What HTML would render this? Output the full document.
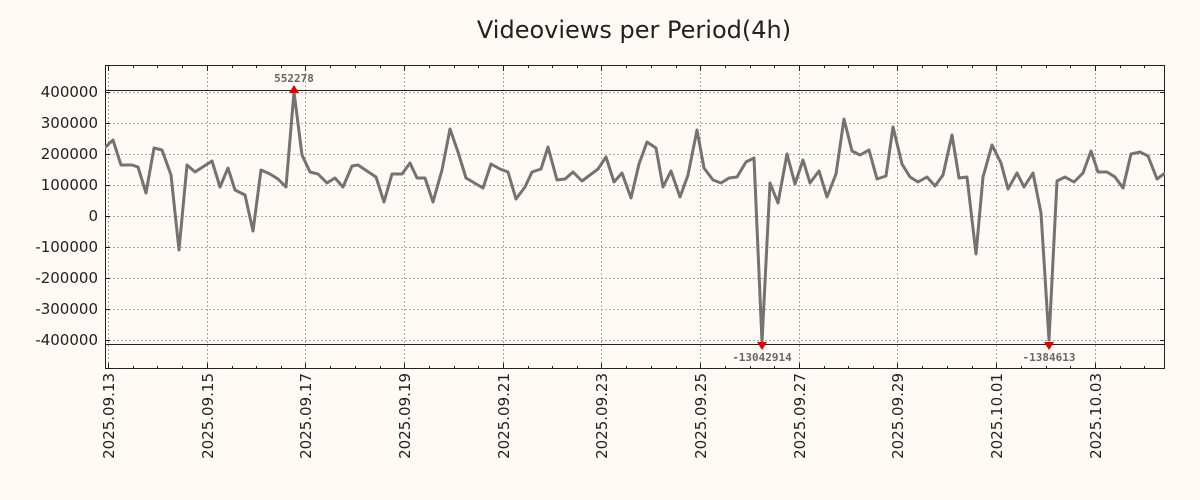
<!DOCTYPE html>
<html><head><meta charset="utf-8"><style>
html,body{margin:0;padding:0;background:#fffaf5;}
svg{display:block;font-family:"DejaVu Sans","Liberation Sans",sans-serif;}
</style></head><body>
<svg width="1200" height="500" viewBox="0 0 1200 500">
<rect x="0" y="0" width="1200" height="500" fill="#fffaf5"/>
<text x="634" y="38" font-size="24" text-anchor="middle" fill="#222">Videoviews per Period(4h)</text>
<rect x="105.5" y="65.5" width="1059" height="303" fill="#fffaf5" stroke="#222" stroke-width="1"/>
<g stroke="#aaa" stroke-width="1" stroke-dasharray="2,2">
<line x1="105" y1="92.5" x2="1165" y2="92.5"/><line x1="105" y1="123.5" x2="1165" y2="123.5"/>
<line x1="105" y1="154.5" x2="1165" y2="154.5"/><line x1="105" y1="185.5" x2="1165" y2="185.5"/>
<line x1="105" y1="216.5" x2="1165" y2="216.5"/><line x1="105" y1="247.5" x2="1165" y2="247.5"/>
<line x1="105" y1="278.5" x2="1165" y2="278.5"/><line x1="105" y1="309.5" x2="1165" y2="309.5"/>
<line x1="105" y1="340.5" x2="1165" y2="340.5"/>
<line x1="108.5" y1="65" x2="108.5" y2="369"/><line x1="207.5" y1="65" x2="207.5" y2="369"/>
<line x1="305.5" y1="65" x2="305.5" y2="369"/><line x1="404.5" y1="65" x2="404.5" y2="369"/>
<line x1="503.5" y1="65" x2="503.5" y2="369"/><line x1="601.5" y1="65" x2="601.5" y2="369"/>
<line x1="700.5" y1="65" x2="700.5" y2="369"/><line x1="799.5" y1="65" x2="799.5" y2="369"/>
<line x1="897.5" y1="65" x2="897.5" y2="369"/><line x1="996.5" y1="65" x2="996.5" y2="369"/>
<line x1="1095.5" y1="65" x2="1095.5" y2="369"/>
</g>
<line x1="105" y1="90.5" x2="1165" y2="90.5" stroke="#222" stroke-width="1"/>
<line x1="105" y1="344.5" x2="1165" y2="344.5" stroke="#222" stroke-width="1"/>
<g stroke="#222" stroke-width="1">
<path d="M105 92.5h5M105 123.5h5M105 154.5h5M105 185.5h5M105 216.5h5M105 247.5h5M105 278.5h5M105 309.5h5M105 340.5h5
M1165 92.5h-5M1165 123.5h-5M1165 154.5h-5M1165 185.5h-5M1165 216.5h-5M1165 247.5h-5M1165 278.5h-5M1165 309.5h-5M1165 340.5h-5"/>
<path d="M108.5 369v-6M207.5 369v-6M305.5 369v-6M404.5 369v-6M503.5 369v-6M601.5 369v-6M700.5 369v-6M799.5 369v-6M897.5 369v-6M996.5 369v-6M1095.5 369v-6
M108.5 65v6M207.5 65v6M305.5 65v6M404.5 65v6M503.5 65v6M601.5 65v6M700.5 65v6M799.5 65v6M897.5 65v6M996.5 65v6M1095.5 65v6
M133.5 369v-3M157.5 369v-3M182.5 369v-3M232.5 369v-3M256.5 369v-3M281.5 369v-3M330.5 369v-3M355.5 369v-3M380.5 369v-3M429.5 369v-3M454.5 369v-3M478.5 369v-3M528.5 369v-3M552.5 369v-3M577.5 369v-3M626.5 369v-3M651.5 369v-3M676.5 369v-3M725.5 369v-3M750.5 369v-3M774.5 369v-3M824.5 369v-3M848.5 369v-3M873.5 369v-3M922.5 369v-3M947.5 369v-3M972.5 369v-3M1021.5 369v-3M1046.5 369v-3M1070.5 369v-3M1120.5 369v-3M1144.5 369v-3
M133.5 65v3M157.5 65v3M182.5 65v3M232.5 65v3M256.5 65v3M281.5 65v3M330.5 65v3M355.5 65v3M380.5 65v3M429.5 65v3M454.5 65v3M478.5 65v3M528.5 65v3M552.5 65v3M577.5 65v3M626.5 65v3M651.5 65v3M676.5 65v3M725.5 65v3M750.5 65v3M774.5 65v3M824.5 65v3M848.5 65v3M873.5 65v3M922.5 65v3M947.5 65v3M972.5 65v3M1021.5 65v3M1046.5 65v3M1070.5 65v3M1120.5 65v3M1144.5 65v3"/>
</g>
<g font-size="15" fill="#222" text-anchor="end">
<text x="98" y="97">400000</text><text x="98" y="128">300000</text><text x="98" y="159">200000</text>
<text x="98" y="190">100000</text><text x="98" y="221">0</text><text x="98" y="252">-100000</text>
<text x="98" y="283">-200000</text><text x="98" y="314">-300000</text><text x="98" y="345">-400000</text>
</g>
<g font-size="15" fill="#222" text-anchor="end">
<text transform="translate(114,373) rotate(-90)">2025.09.13</text>
<text transform="translate(213,373) rotate(-90)">2025.09.15</text>
<text transform="translate(311,373) rotate(-90)">2025.09.17</text>
<text transform="translate(410,373) rotate(-90)">2025.09.19</text>
<text transform="translate(509,373) rotate(-90)">2025.09.21</text>
<text transform="translate(607,373) rotate(-90)">2025.09.23</text>
<text transform="translate(706,373) rotate(-90)">2025.09.25</text>
<text transform="translate(805,373) rotate(-90)">2025.09.27</text>
<text transform="translate(903,373) rotate(-90)">2025.09.29</text>
<text transform="translate(1002,373) rotate(-90)">2025.10.01</text>
<text transform="translate(1101,373) rotate(-90)">2025.10.03</text>
</g>
<svg x="105" y="65" width="1060" height="304" viewBox="105 65 1060 304" overflow="hidden">
<polyline fill="none" stroke="#737373" stroke-width="3" stroke-linejoin="round" points="
100,152 113,140 121,165 132,165 138,167 146,193 154,148 162,150 171,175 179,250 187,165 195,172 212,161 220,187 228,168 235,190 245,195 253,231 261,170 270,174 278,179 286,187 294,92 302,155 310,172 318,174 327,183 335,178 343,187 352,166 358,165 367,171 376,177 384,202 392,174 402,174 410,163 417,178 425,178 433,202 442,170 450,129 458,152 466,178 483,188 491,164 500,169 508,172 516,199 525,187 532,172 541,169 548,147 557,180 565,179 573,172 582,181 590,175 598,169 606,157 614,182 622,173 631,198 639,164 647,142 656,148 663,187 671,171 680,197 688,175 697,130 704,168 713,180 721,183 729,178 737,177 746,162 754,158 762,342 770,183 778,203 787,154 795,184 803,160 810,183 819,171 827,197 836,174 844,119 852,151 860,155 869,150 877,179 886,176 893,127 902,164 910,177 918,182 927,177 935,186 943,175 952,135 959,178 967,177 976,254 983,177 992,145 1001,163 1008,189 1017,173 1024,187 1033,173 1041,213 1049,340 1057,181 1065,177 1074,182 1083,173 1091,151 1098,172 1107,172 1115,177 1123,188 1131,154 1140,152 1148,156 1157,179 1165,173 1170,171"/>
</svg>
<polygon points="289,93 299,93 294,85" fill="#e00000"/>
<polygon points="757,342 767,342 762,350" fill="#e00000"/>
<polygon points="1044,342 1054,342 1049,350" fill="#e00000"/>
<g font-size="11" font-weight="bold" fill="#666" text-anchor="middle" font-family="'DejaVu Sans Mono','Liberation Mono',monospace">
<text x="294" y="82">552278</text>
<text x="762" y="361">-13042914</text>
<text x="1049" y="361">-1384613</text>
</g>
</svg>
</body></html>
